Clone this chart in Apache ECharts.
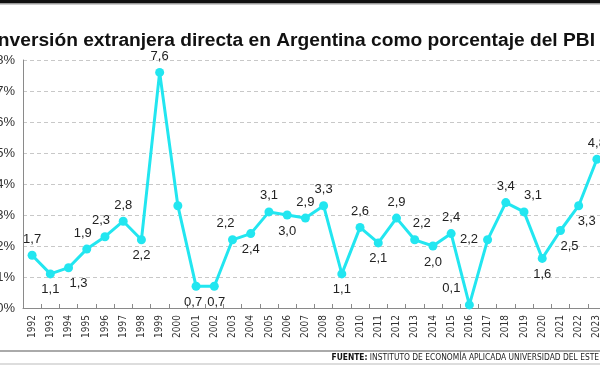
<!DOCTYPE html>
<html>
<head>
<meta charset="utf-8">
<script src="https://cdn.jsdelivr.net/npm/echarts@6/dist/echarts.min.js"></script>
<style>
html,body{margin:0;padding:0;background:#fff;}
#chart{width:600px;height:365px;}
</style>
</head>
<body>
<div id="chart"></div>
<script>
const titleText = 'Inversión extranjera directa en Argentina como porcentaje del PBI';
const sourceLabel = 'FUENTE:';
const sourceText = ' INSTITUTO DE ECONOMÍA APLICADA UNIVERSIDAD DEL ESTE';
const years = ['1992','1993','1994','1995','1996','1997','1998','1999','2000','2001','2002','2003','2004','2005','2006','2007','2008','2009','2010','2011','2012','2013','2014','2015','2016','2017','2018','2019','2020','2021','2022','2023'];
const fdiPct = [1.7,1.1,1.3,1.9,2.3,2.8,2.2,7.6,3.3,0.7,0.7,2.2,2.4,3.1,3.0,2.9,3.3,1.1,2.6,2.1,2.9,2.2,2.0,2.4,0.1,2.2,3.4,3.1,1.6,2.5,3.3,4.8];
const yTicks = [0,1,2,3,4,5,6,7,8];

// label placement (style only)
const labelPlace = ['top','bottom','bottom','top','top','top','bottom','top','none','bottom','bottom','top','bottom','top','bottom','top','top','bottom','top','bottom','top','top','bottom','top','top','left','top','top','bottom','bottom','bottom','top'];
const labelShiftX = [0,0,10,-4,-4,0,0,0,0,-3,2,-7,0,0,0,0,0,0,0,0,0,7,0,0,-18,0,0,9,0,9,8,0];

const chart = echarts.init(document.getElementById('chart'), null, {renderer:'canvas'});
const fmt = v => v.toFixed(1).replace('.', ',');

const seriesData = fdiPct.map((v,i) => {
  const p = labelPlace[i];
  return {
    value: v,
    label: p === 'none' ? {show:false} : {show:true, position:p, offset:[labelShiftX[i],0]}
  };
});

const option = {
  animation:false,
  backgroundColor:'#fff',
  grid:{left:23, top:60, width:583, height:248, containLabel:false, outerBoundsMode:'none'},
  xAxis:{
    type:'category',
    data:years,
    boundaryGap:true,
    axisLine:{lineStyle:{color:'#8a8a8a', width:1}},
    axisTick:{show:true, inside:true, length:4, lineStyle:{color:'#8a8a8a'}},
    axisLabel:{rotate:90, interval:0, fontSize:10, color:'#333', margin:7,
      fontFamily:'"Liberation Sans Narrow","DejaVu Sans Condensed","Liberation Sans",sans-serif'}
  },
  yAxis:{
    type:'value',
    min:yTicks[0], max:yTicks[yTicks.length-1], interval:1,
    axisLine:{show:true, lineStyle:{color:'#8a8a8a', width:1}},
    axisTick:{show:false},
    axisLabel:{formatter:'{value}%', fontSize:13, color:'#333', margin:8,
      fontFamily:'"Liberation Sans",Arial,sans-serif'},
    splitLine:{show:true, lineStyle:{color:'#c8c8c8', type:[4,3], width:1}}
  },
  series:[{
    type:'line',
    data:seriesData,
    symbol:'circle',
    symbolSize:9,
    lineStyle:{color:'#22e6f0', width:3},
    itemStyle:{color:'#22e6f0'},
    label:{show:true, formatter:p => fmt(p.value), fontSize:13, color:'#222', distance:5,
      fontFamily:'"Liberation Sans",Arial,sans-serif'}
  }],
  graphic:[
    {type:'rect', left:0, top:0, shape:{width:600, height:3}, style:{fill:'#111'}, silent:true},
    {type:'rect', left:0, top:3, shape:{width:600, height:1.5}, style:{fill:'#999'}, silent:true},
    {type:'text', x:595, y:31.5, silent:true,
      style:{text:titleText, textAlign:'right', textVerticalAlign:'alphabetic',
        font:'bold 19.2px "Liberation Sans", Arial, sans-serif', fill:'#111'}},
    {type:'rect', left:0, top:350, shape:{width:600, height:2}, style:{fill:'#aaa'}, silent:true},
    {type:'rect', left:0, top:363.5, shape:{width:600, height:1}, style:{fill:'#bbb'}, silent:true},
    {type:'text', x:599, y:358, scaleX:0.88, silent:true,
      style:{text:'{b|'+sourceLabel+'}{r|'+sourceText+'}', textAlign:'right', textVerticalAlign:'middle',
        rich:{
          b:{fontWeight:'bold', fontSize:9.5, fill:'#111', fontFamily:'"Liberation Sans Narrow","DejaVu Sans Condensed",sans-serif'},
          r:{fontSize:9.5, fill:'#222', fontFamily:'"Liberation Sans Narrow","DejaVu Sans Condensed",sans-serif'}
        }}}
  ]
};
chart.setOption(option);
</script>
</body>
</html>
